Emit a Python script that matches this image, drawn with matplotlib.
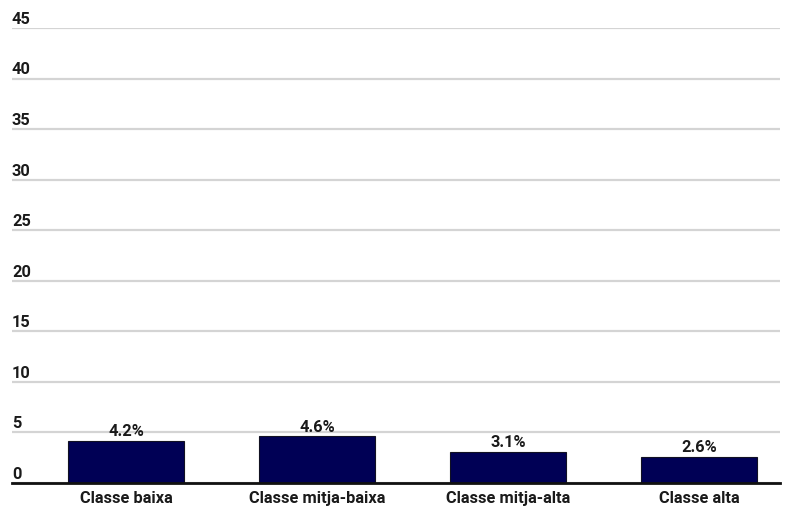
import matplotlib
matplotlib.use("Agg")
import matplotlib.pyplot as plt
from matplotlib.transforms import offset_copy

categories = ["Classe baixa", "Classe mitja-baixa", "Classe mitja-alta", "Classe alta"]
values = [4.2, 4.6, 3.1, 2.6]
labels = ["4.2%", "4.6%", "3.1%", "2.6%"]
yticks = [0, 5, 10, 15, 20, 25, 30, 35, 40, 45]

plt.rcParams['font.family'] = ['Roboto', 'DejaVu Sans']
FS = 11.8
FW = 'bold'
TC = '#1a1a1a'

fig = plt.figure(figsize=(7.86, 5.12), dpi=100)
ax = fig.add_axes([12/786, 29/512, 768/786, 455/512])

x = list(range(len(categories)))
ax.bar(x, values, width=0.61, color='#000055', edgecolor='#111122', linewidth=0.8, zorder=3)

ax.set_xlim(-0.597, 3.424)
ax.set_ylim(0, 45)
ax.set_yticks(yticks)
ax.yaxis.grid(True, color='#d4d4d4', linewidth=1.6, zorder=0)
ax.tick_params(axis='y', length=0, labelleft=False)
ax.set_xticks(x)
ax.set_xticklabels(categories, fontsize=FS, fontweight=FW, color=TC)
ax.tick_params(axis='x', length=0, pad=6)
for s in ['top', 'right', 'left']:
    ax.spines[s].set_visible(False)
ax.spines['bottom'].set_linewidth(2)
ax.spines['bottom'].set_color('#111111')
ax.spines['bottom'].set_zorder(4)

ytr = offset_copy(ax.get_yaxis_transform(), fig=fig, x=0, y=0.8, units='points')
for t in yticks:
    ax.text(0, t, str(t), transform=ytr, ha='left', va='bottom', fontsize=FS,
            fontweight=FW, color=TC)

for xi, v, lab in zip(x, values, labels):
    ax.annotate(lab, (xi, v), xytext=(0, 1), textcoords='offset points',
                ha='center', va='bottom', fontsize=FS, fontweight=FW, color=TC, zorder=5)

fig.savefig("out.png", dpi=100)
